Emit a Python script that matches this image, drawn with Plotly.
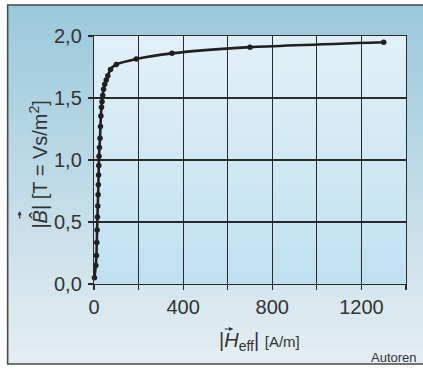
import plotly.graph_objects as go

# data
H_values = [2, 8, 11, 12.5, 14, 15.5, 17, 18.5, 19.5, 20.5, 21.5, 22.5, 24.5, 27, 29, 31,
            33.5, 36, 39, 43, 48, 55, 62, 74, 100, 190, 350, 700, 1300]
B_values = [0.05, 0.15, 0.23, 0.335, 0.435, 0.54, 0.63, 0.72, 0.80, 0.88, 0.955, 1.03, 1.10,
            1.175, 1.27, 1.355, 1.425, 1.47, 1.52, 1.57, 1.61, 1.645, 1.68, 1.73, 1.77,
            1.815, 1.86, 1.91, 1.95]
x_ticks = [0, 200, 400, 600, 800, 1000, 1200, 1400]
x_ticktext = ["0", "", "400", "", "800", "", "1200", ""]
y_ticks = [0, 0.5, 1.0, 1.5, 2.0]
y_ticktext = ["0,0", "0,5", "1,0", "1,5", "2,0"]

W, Hh = 423, 369
L, R, T, Bm = 93.5, 406, 36, 284


def px(x):
    return (x - L) / (R - L)


def py(y):
    return (Bm - y) / (Bm - T)


def lerp(c1, c2, t):
    return "rgb(%d,%d,%d)" % tuple(round(a + (b - a) * t) for a, b in zip(c1, c2))


shapes = []
# outer gradient panel
outer_top, outer_bot = (155, 201, 220), (228, 237, 242)
n = 60
y0, y1 = 5, 364
for i in range(n):
    ya = y0 + (y1 - y0) * i / n
    yb = y0 + (y1 - y0) * (i + 1) / n + 0.6
    shapes.append(dict(type="rect", xref="paper", yref="paper", layer="below",
                       x0=px(7), x1=px(425), y0=py(yb), y1=py(ya),
                       fillcolor=lerp(outer_top, outer_bot, i / (n - 1)), line_width=0))
# inner plot gradient
in_top, in_bot = (225, 240, 248), (192, 225, 241)
m = 40
for i in range(m):
    ya = T + (Bm - T) * i / m
    yb = T + (Bm - T) * (i + 1) / m + 0.6
    shapes.append(dict(type="rect", xref="paper", yref="paper", layer="below",
                       x0=0, x1=1, y0=max(0, py(yb)), y1=py(ya),
                       fillcolor=lerp(in_top, in_bot, i / (m - 1)), line_width=0))
# frame
shapes.append(dict(type="rect", xref="paper", yref="paper", layer="below",
                   x0=px(7), x1=px(426), y0=py(364), y1=py(5),
                   line=dict(color="#4a4a4a", width=1.6), fillcolor="rgba(0,0,0,0)"))

fig = go.Figure()
fig.add_trace(go.Scatter(
    x=H_values, y=B_values, mode="lines+markers",
    line=dict(color="#231f20", width=2.6, shape="spline", smoothing=0.6),
    marker=dict(color="#231f20", size=5.5),
    cliponaxis=False, showlegend=False,
))

font = "Liberation Sans, Arial, sans-serif"
txt = "#333333"

fig.update_layout(
    width=W, height=Hh,
    margin=dict(l=L, r=W - R, t=T, b=Hh - Bm, autoexpand=False),
    paper_bgcolor="white", plot_bgcolor="rgba(0,0,0,0)",
    shapes=shapes,
    font=dict(family=font, color=txt, size=18),
    xaxis=dict(range=[0, 1400], tickvals=x_ticks, ticktext=x_ticktext,
               showgrid=True, gridcolor="#2a2a2a", gridwidth=1.2,
               showline=True, linecolor="#2a2a2a", linewidth=1.2, mirror=True,
               ticks="outside", ticklen=5, tickcolor="#2a2a2a", tickwidth=1.2,
               tickfont=dict(size=20, color=txt), zeroline=False, fixedrange=True),
    yaxis=dict(range=[0, 2], tickvals=y_ticks, ticktext=y_ticktext,
               showgrid=True, gridcolor="#2a2a2a", gridwidth=1.2,
               showline=True, linecolor="#2a2a2a", linewidth=1.2, mirror=True,
               ticks="outside", ticklen=5, tickcolor="#2a2a2a", tickwidth=1.2,
               tickfont=dict(size=20, color=txt), zeroline=False, fixedrange=True,
               ticklabelstandoff=2),
    annotations=[
        dict(text="|<i>H</i><sub>eff</sub>| <span style='font-size:15px'>[A/m]</span>",
             xref="paper", yref="paper", x=px(259), y=py(341), showarrow=False,
             font=dict(size=20, color=txt), xanchor="center", yanchor="middle"),
        # vector arrow over H
        dict(text="", xref="paper", yref="paper", x=px(233), y=py(329),
             ax=-10, ay=0, showarrow=True, arrowhead=2, arrowsize=0.7,
             arrowwidth=1.2, arrowcolor=txt),
        dict(text="|<i>B\u0302</i>| [T = Vs/m<sup>2</sup>]",
             xref="paper", yref="paper", x=px(37), y=py(165), showarrow=False,
             textangle=-90, font=dict(size=20, color=txt),
             xanchor="center", yanchor="middle"),
        # vector arrow over B (rotated)
        dict(text="", xref="paper", yref="paper", x=px(19), y=py(211),
             ax=0, ay=9, showarrow=True, arrowhead=2, arrowsize=0.7,
             arrowwidth=1.2, arrowcolor=txt),
        dict(text="Autoren", xref="paper", yref="paper", x=px(419), y=py(357),
             showarrow=False, font=dict(size=13, color=txt),
             xanchor="right", yanchor="middle"),
    ],
)

fig.write_html("out.html", config={"staticPlot": True},
               post_script="document.body.style.margin='0';document.body.style.padding='0';")
